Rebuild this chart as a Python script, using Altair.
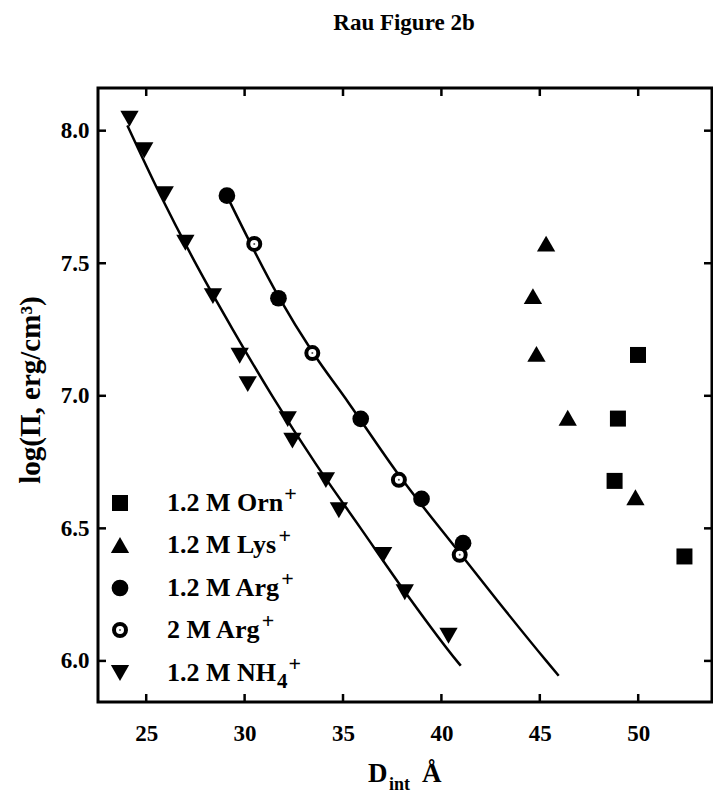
import altair as alt
import pandas as pd

# ---------------- data ----------------
nh4_x = [24.15, 24.9, 25.94, 26.99, 28.39, 29.75, 30.16, 32.19, 32.43, 34.13, 34.79, 37.04, 38.14, 40.36]
nh4_y = [8.045, 7.926, 7.76, 7.577, 7.376, 7.151, 7.044, 6.912, 6.831, 6.682, 6.568, 6.40, 6.259, 6.095]

arg12_x = [29.1, 31.72, 35.9, 38.99, 41.1]
arg12_y = [7.755, 7.368, 6.913, 6.611, 6.444]

arg2_x = [30.49, 33.44, 37.84, 40.93]
arg2_y = [7.573, 7.161, 6.683, 6.40]

lys_x = [45.32, 44.65, 44.83, 46.42, 49.86]
lys_y = [7.574, 7.376, 7.158, 6.917, 6.617]

orn_x = [49.99, 48.97, 48.80, 52.35]
orn_y = [7.154, 6.914, 6.679, 6.394]

nh4_fit_x = [24.04, 25.7, 27.58, 29.4, 31.4, 33.6, 35.9, 38.3, 40.78, 40.98]
nh4_fit_y = [8.02, 7.76, 7.49, 7.25, 7.0, 6.745, 6.5, 6.245, 6.0, 5.982]

arg_fit_x = [29.1, 31.72, 33.45, 35.27, 37.85, 40.9, 42.87, 45.33, 45.96]
arg_fit_y = [7.754, 7.375, 7.165, 6.975, 6.70, 6.41, 6.225, 6.0, 5.944]

x_ticks = [25, 30, 35, 40, 45, 50]
y_ticks = [6.0, 6.5, 7.0, 7.5, 8.0]

legend_labels = ["1.2 M Orn", "1.2 M Lys", "1.2 M Arg", "2 M Arg", "1.2 M NH"]

# ---------------- layout / style ----------------
W, H = 614, 614
FONT = "Liberation Serif"
XDOM = [22.55, 53.75]
YDOM = [5.845, 8.161]

TRI_UP = "M0,-0.87L1,0.87L-1,0.87Z"
TRI_DOWN = "M0,0.87L1,-0.87L-1,-0.87Z"
SZ_TRI = 335
SZ_SQ = 256
SZ_CIR = 279
SZ_OPEN = 144

xs = alt.Scale(domain=XDOM, nice=False, zero=False)
ys = alt.Scale(domain=YDOM, nice=False, zero=False)

xaxis = alt.Axis(values=x_ticks, format="d", title=None, grid=False, domain=False,
                 ticks=False, tickSize=0, labelFont=FONT, labelFontSize=23,
                 labelFontWeight="bold", labelColor="black", labelPadding=20)
yaxis = alt.Axis(values=y_ticks, format=".1f", title=None, grid=False, domain=False,
                 ticks=False, tickSize=0, labelFont=FONT, labelFontSize=23,
                 labelFontWeight="bold", labelColor="black", labelPadding=9)

X = alt.X("x:Q", scale=xs, axis=xaxis)
Y = alt.Y("y:Q", scale=ys, axis=yaxis)


def df(xv, yv):
    return pd.DataFrame({"x": xv, "y": yv})


layers = []

# fitted curves
layers.append(alt.Chart(df(nh4_fit_x, nh4_fit_y)).mark_line(
    color="black", strokeWidth=2.5, interpolate="monotone").encode(x=X, y=Y))
layers.append(alt.Chart(df(arg_fit_x, arg_fit_y)).mark_line(
    color="black", strokeWidth=2.5, interpolate="monotone").encode(x=X, y=Y))

# points
layers.append(alt.Chart(df(nh4_x, nh4_y)).mark_point(
    shape=TRI_DOWN, filled=True, color="black", opacity=1, size=SZ_TRI).encode(x=X, y=Y))
layers.append(alt.Chart(df(arg12_x, arg12_y)).mark_point(
    shape="circle", filled=True, color="black", opacity=1, size=SZ_CIR).encode(x=X, y=Y))
layers.append(alt.Chart(df(arg2_x, arg2_y)).mark_point(
    shape="circle", filled=True, fill="white", stroke="black", strokeWidth=4,
    opacity=1, size=SZ_OPEN).encode(x=X, y=Y))
layers.append(alt.Chart(df(arg2_x, arg2_y)).mark_point(
    shape="circle", filled=True, color="#555555", opacity=1, size=4).encode(x=X, y=Y))
layers.append(alt.Chart(df(lys_x, lys_y)).mark_point(
    shape=TRI_UP, filled=True, color="black", opacity=1, size=SZ_TRI).encode(x=X, y=Y))
layers.append(alt.Chart(df(orn_x, orn_y)).mark_point(
    shape="square", filled=True, color="black", opacity=1, size=SZ_SQ).encode(x=X, y=Y))

# inward tick marks on all four sides
tx = pd.DataFrame({"x": x_ticks})
ty = pd.DataFrame({"y": y_ticks})
TL = 8
layers.append(alt.Chart(tx).mark_rule(color="black", strokeWidth=2.5).encode(
    x=X, y=alt.value(H), y2=alt.value(H - TL)))
layers.append(alt.Chart(tx).mark_rule(color="black", strokeWidth=2.5).encode(
    x=X, y=alt.value(0), y2=alt.value(TL)))
layers.append(alt.Chart(ty).mark_rule(color="black", strokeWidth=2.5).encode(
    y=Y, x=alt.value(0), x2=alt.value(TL)))
layers.append(alt.Chart(ty).mark_rule(color="black", strokeWidth=2.5).encode(
    y=Y, x=alt.value(W), x2=alt.value(W - TL)))

# plot frame
layers.append(alt.Chart(pd.DataFrame({"f": [0]})).mark_rect(
    fill="transparent", stroke="black", strokeWidth=3).encode(
    x=alt.value(0), x2=alt.value(W), y=alt.value(0), y2=alt.value(H)))


def text_layer(s, x, y, size, align="left", baseline="alphabetic", angle=0):
    return alt.Chart(pd.DataFrame({"t": [s]})).mark_text(
        font=FONT, fontSize=size, fontWeight="bold", color="black",
        align=align, baseline=baseline, angle=angle
    ).encode(text="t:N", x=alt.value(x), y=alt.value(y))


# title
layers.append(text_layer("Rau Figure 2b", 306, -58, 23, align="center"))

# x-axis title: D_int Å
layers.append(text_layer("D", 270, 694, 27))
layers.append(text_layer("int", 291, 702, 18))
layers.append(text_layer("Å", 324, 694, 27))

# y-axis title
layers.append(text_layer("log(Π, erg/cm³)", -58, 302, 29, align="center", angle=270))

# legend
TIMES_BOLD = {" ": 250, ".": 250, "1": 500, "2": 500, "4": 500, "M": 944, "O": 778,
              "r": 444, "n": 556, "L": 667, "y": 500, "s": 389, "A": 722, "g": 500,
              "N": 722, "H": 778}
LFS = 26
row_y = [415, 457, 500, 542, 585]
sym_x = 22
txt_x = 69
shapes = [("square", SZ_SQ), (TRI_UP, SZ_TRI), ("circle", SZ_CIR), ("open", SZ_OPEN), (TRI_DOWN, SZ_TRI)]
for lab, ry, (shp, sz) in zip(legend_labels, row_y, shapes):
    one = pd.DataFrame({"t": [lab]})
    if shp == "open":
        layers.append(alt.Chart(one).mark_point(
            shape="circle", filled=True, fill="white", stroke="black", strokeWidth=4,
            opacity=1, size=sz).encode(x=alt.value(sym_x), y=alt.value(ry)))
        layers.append(alt.Chart(one).mark_point(
            shape="circle", filled=True, color="#555555", opacity=1, size=4
        ).encode(x=alt.value(sym_x), y=alt.value(ry)))
    else:
        layers.append(alt.Chart(one).mark_point(
            shape=shp, filled=True, color="black", opacity=1, size=sz
        ).encode(x=alt.value(sym_x), y=alt.value(ry)))
    layers.append(text_layer(lab, txt_x, ry, LFS, baseline="middle"))
    w = sum(TIMES_BOLD[c] for c in lab) * LFS / 1000.0
    px = txt_x + w + 1
    if lab.endswith("NH"):
        layers.append(text_layer("4", px, ry + 9, 21, baseline="middle"))
        px += 10.5 + 1
    layers.append(text_layer("+", px, ry - 9, 22, baseline="middle"))

chart = alt.layer(*layers).properties(
    width=W, height=H,
    padding={"left": 90, "top": 80, "right": 1, "bottom": 92},
    autosize=alt.AutoSizeParams(type="none"),
).configure_view(stroke=None).configure(background="white")

chart.save("out.html", embed_options={"renderer": "svg", "actions": False})
